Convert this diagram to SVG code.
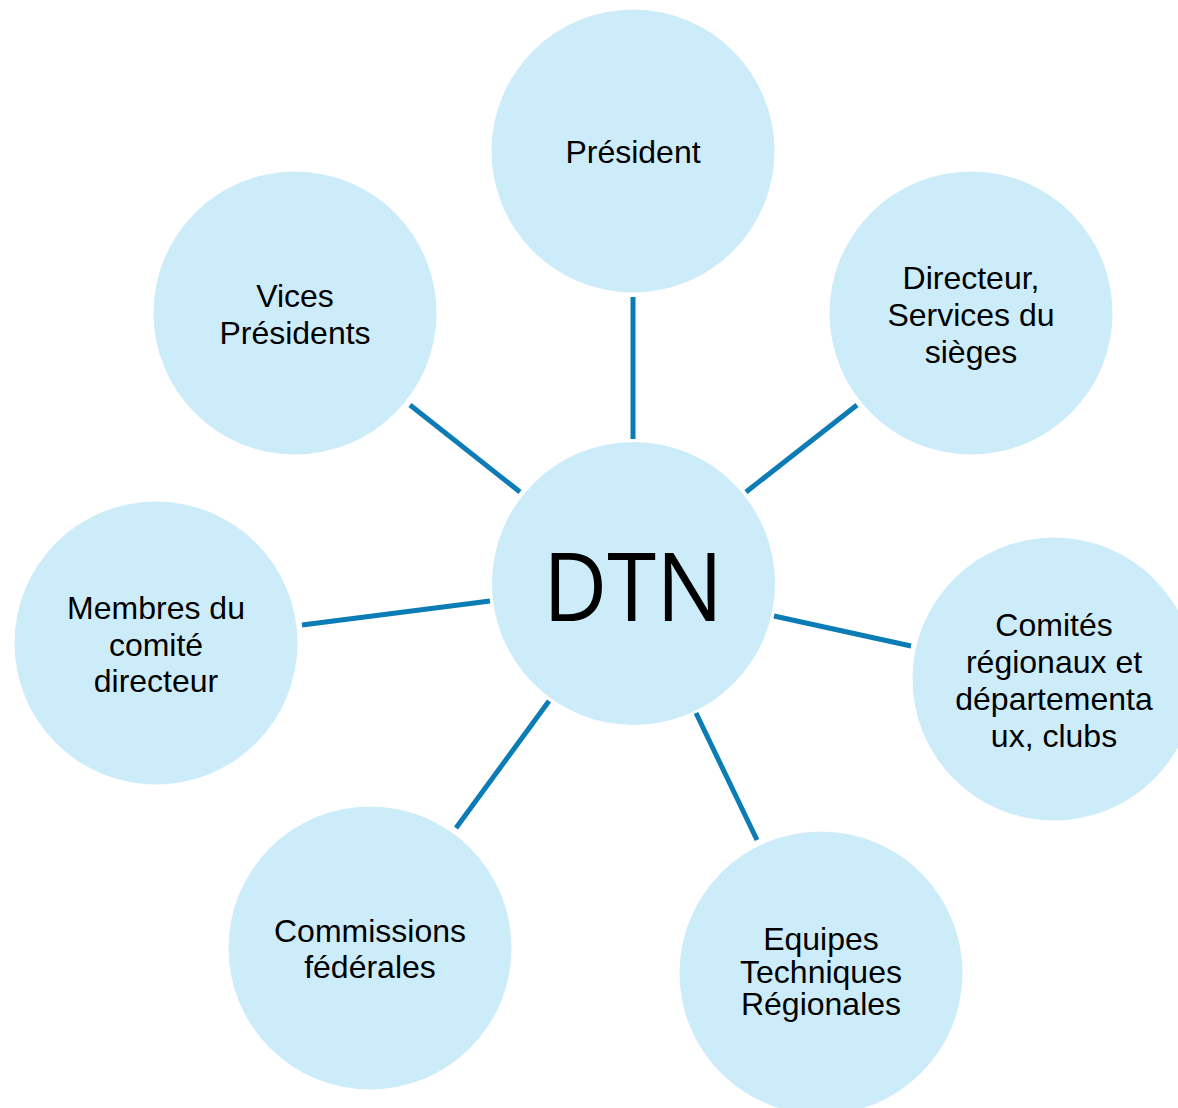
<svg xmlns="http://www.w3.org/2000/svg" width="1178" height="1108" viewBox="0 0 1178 1108">
<style>
.n{fill:#CDECFA}
.t{font-family:"Liberation Sans",Arial,sans-serif;font-size:32px;fill:#000;text-anchor:middle}
.c line{stroke:#0C7CB6;stroke-width:5}
</style>
<rect width="1178" height="1108" fill="#fff"/>
<g class="c" id="connectors">
<line x1="633" y1="297" x2="633" y2="439"/>
<line x1="410" y1="405" x2="520" y2="492"/>
<line x1="857" y1="405" x2="746" y2="492"/>
<line x1="302" y1="625" x2="490" y2="601"/>
<line x1="774" y1="616" x2="911" y2="646"/>
<line x1="456" y1="828" x2="549" y2="701"/>
<line x1="696" y1="713" x2="757" y2="840"/>
</g>
<g id="president"><circle class="n" cx="633" cy="151" r="141.5"/><text class="t" x="633" y="163">Président</text></g>
<g id="vices"><circle class="n" cx="295" cy="313" r="141.5"/><text class="t" x="295" y="307">Vices</text><text class="t" x="295" y="344">Présidents</text></g>
<g id="directeur"><circle class="n" cx="971" cy="313" r="141.5"/><text class="t" x="971" y="289">Directeur,</text><text class="t" x="971" y="326">Services du</text><text class="t" x="971" y="363">sièges</text></g>
<g id="membres"><circle class="n" cx="156" cy="643" r="141.5"/><text class="t" x="156" y="619">Membres du</text><text class="t" x="156" y="656">comité</text><text class="t" x="156" y="692">directeur</text></g>
<g id="comites"><circle class="n" cx="1054" cy="679" r="141.5"/><text class="t" x="1054" y="636">Comités</text><text class="t" x="1054" y="673">régionaux et</text><text class="t" x="1054" y="710">départementa</text><text class="t" x="1054" y="747">ux, clubs</text></g>
<g id="commissions"><circle class="n" cx="370" cy="948" r="141.5"/><text class="t" x="370" y="942">Commissions</text><text class="t" x="370" y="978">fédérales</text></g>
<g id="equipes"><circle class="n" cx="821" cy="973" r="141.5"/><text class="t" x="821" y="950">Equipes</text><text class="t" x="821" y="983">Techniques</text><text class="t" x="821" y="1015">Régionales</text></g>
<g id="dtn"><circle class="n" cx="633.5" cy="583.5" r="141.5"/><text x="633" y="621" font-family="'Open Sans','Noto Sans',sans-serif" font-size="96" text-anchor="middle" textLength="180" lengthAdjust="spacingAndGlyphs" fill="#000">DTN</text></g>
</svg>
